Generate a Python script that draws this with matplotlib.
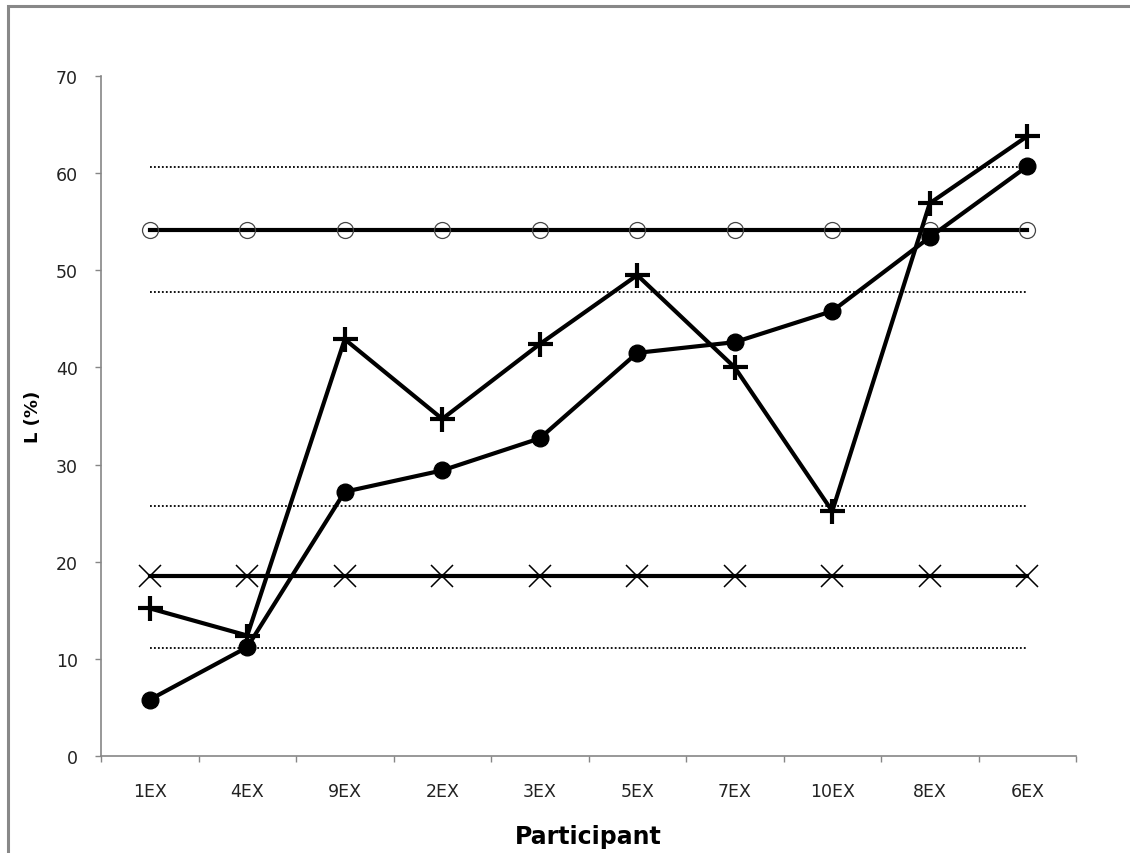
import matplotlib
matplotlib.use('Agg')
import matplotlib.pyplot as plt
from matplotlib.patches import Rectangle

participants = ['1EX', '4EX', '9EX', '2EX', '3EX', '5EX', '7EX', '10EX', '8EX', '6EX']
l_dots = [5.8, 11.2, 27.2, 29.4, 32.7, 41.5, 42.6, 45.8, 53.4, 60.7]
l_plus = [15.2, 12.4, 42.9, 34.7, 42.4, 49.5, 40.0, 25.2, 56.9, 63.8]
mean_open = 54.1
mean_cross = 18.5
band_open = [47.8, 60.6]
band_cross = [11.1, 25.7]

x = list(range(len(participants)))

fig = plt.figure(figsize=(11.3, 8.54), dpi=100)
# gray frame round the chart area
fig.patches.append(Rectangle((8 / 1130, -0.1), 1.2, 1.1 - 7 / 854, transform=fig.transFigure,
                             fill=False, edgecolor='#888888', linewidth=2.2))
ax = fig.add_axes([101 / 1130, 1 - 757 / 854, 975 / 1130, 680 / 854])

for b in band_open + band_cross:
    ax.plot([x[0], x[-1]], [b, b], color='black', linestyle=(0, (1, 1.2)), linewidth=1.3, zorder=2)

ax.plot(x, [mean_open] * len(x), color='black', linewidth=3, zorder=3)
ax.plot(x, [mean_open] * len(x), linestyle='none', marker='o', markersize=11.5,
        markerfacecolor='none', markeredgecolor='#444444', markeredgewidth=0.9, zorder=3)
ax.plot(x, [mean_cross] * len(x), color='black', linewidth=3, marker='x', markersize=16,
        markeredgewidth=1.1, zorder=3)

ax.plot(x, l_dots, color='black', linewidth=3, marker='o', markersize=12, zorder=4)
ax.plot(x, l_plus, color='black', linewidth=3, marker='+', markersize=18,
        markeredgewidth=3, zorder=5)

ax.set_xlim(-0.5, len(x) - 0.5)
ax.set_ylim(0, 70)
ax.set_yticks(range(0, 71, 10))
ax.set_xticks(x)
ax.set_xticklabels(participants)
ax.set_xticks([i - 0.5 for i in range(len(x) + 1)], minor=True)

for s in ['top', 'right']:
    ax.spines[s].set_visible(False)
for s in ['left', 'bottom']:
    ax.spines[s].set_color('#868686')
    ax.spines[s].set_linewidth(1.2)

ax.tick_params(axis='y', direction='out', length=4.5, width=1, color='#868686',
               labelsize=12.5, pad=12, labelcolor='#222222')
ax.tick_params(axis='x', which='major', length=0, labelsize=12.5, pad=19, labelcolor='#222222')
ax.tick_params(axis='x', which='minor', direction='out', length=4.5, width=1, color='#868686')

ax.set_xlabel('Participant', fontsize=17, fontweight='bold', labelpad=17)
ax.set_ylabel('L (%)', fontsize=13, fontweight='bold', labelpad=10)

fig.savefig('out.png', dpi=100)
